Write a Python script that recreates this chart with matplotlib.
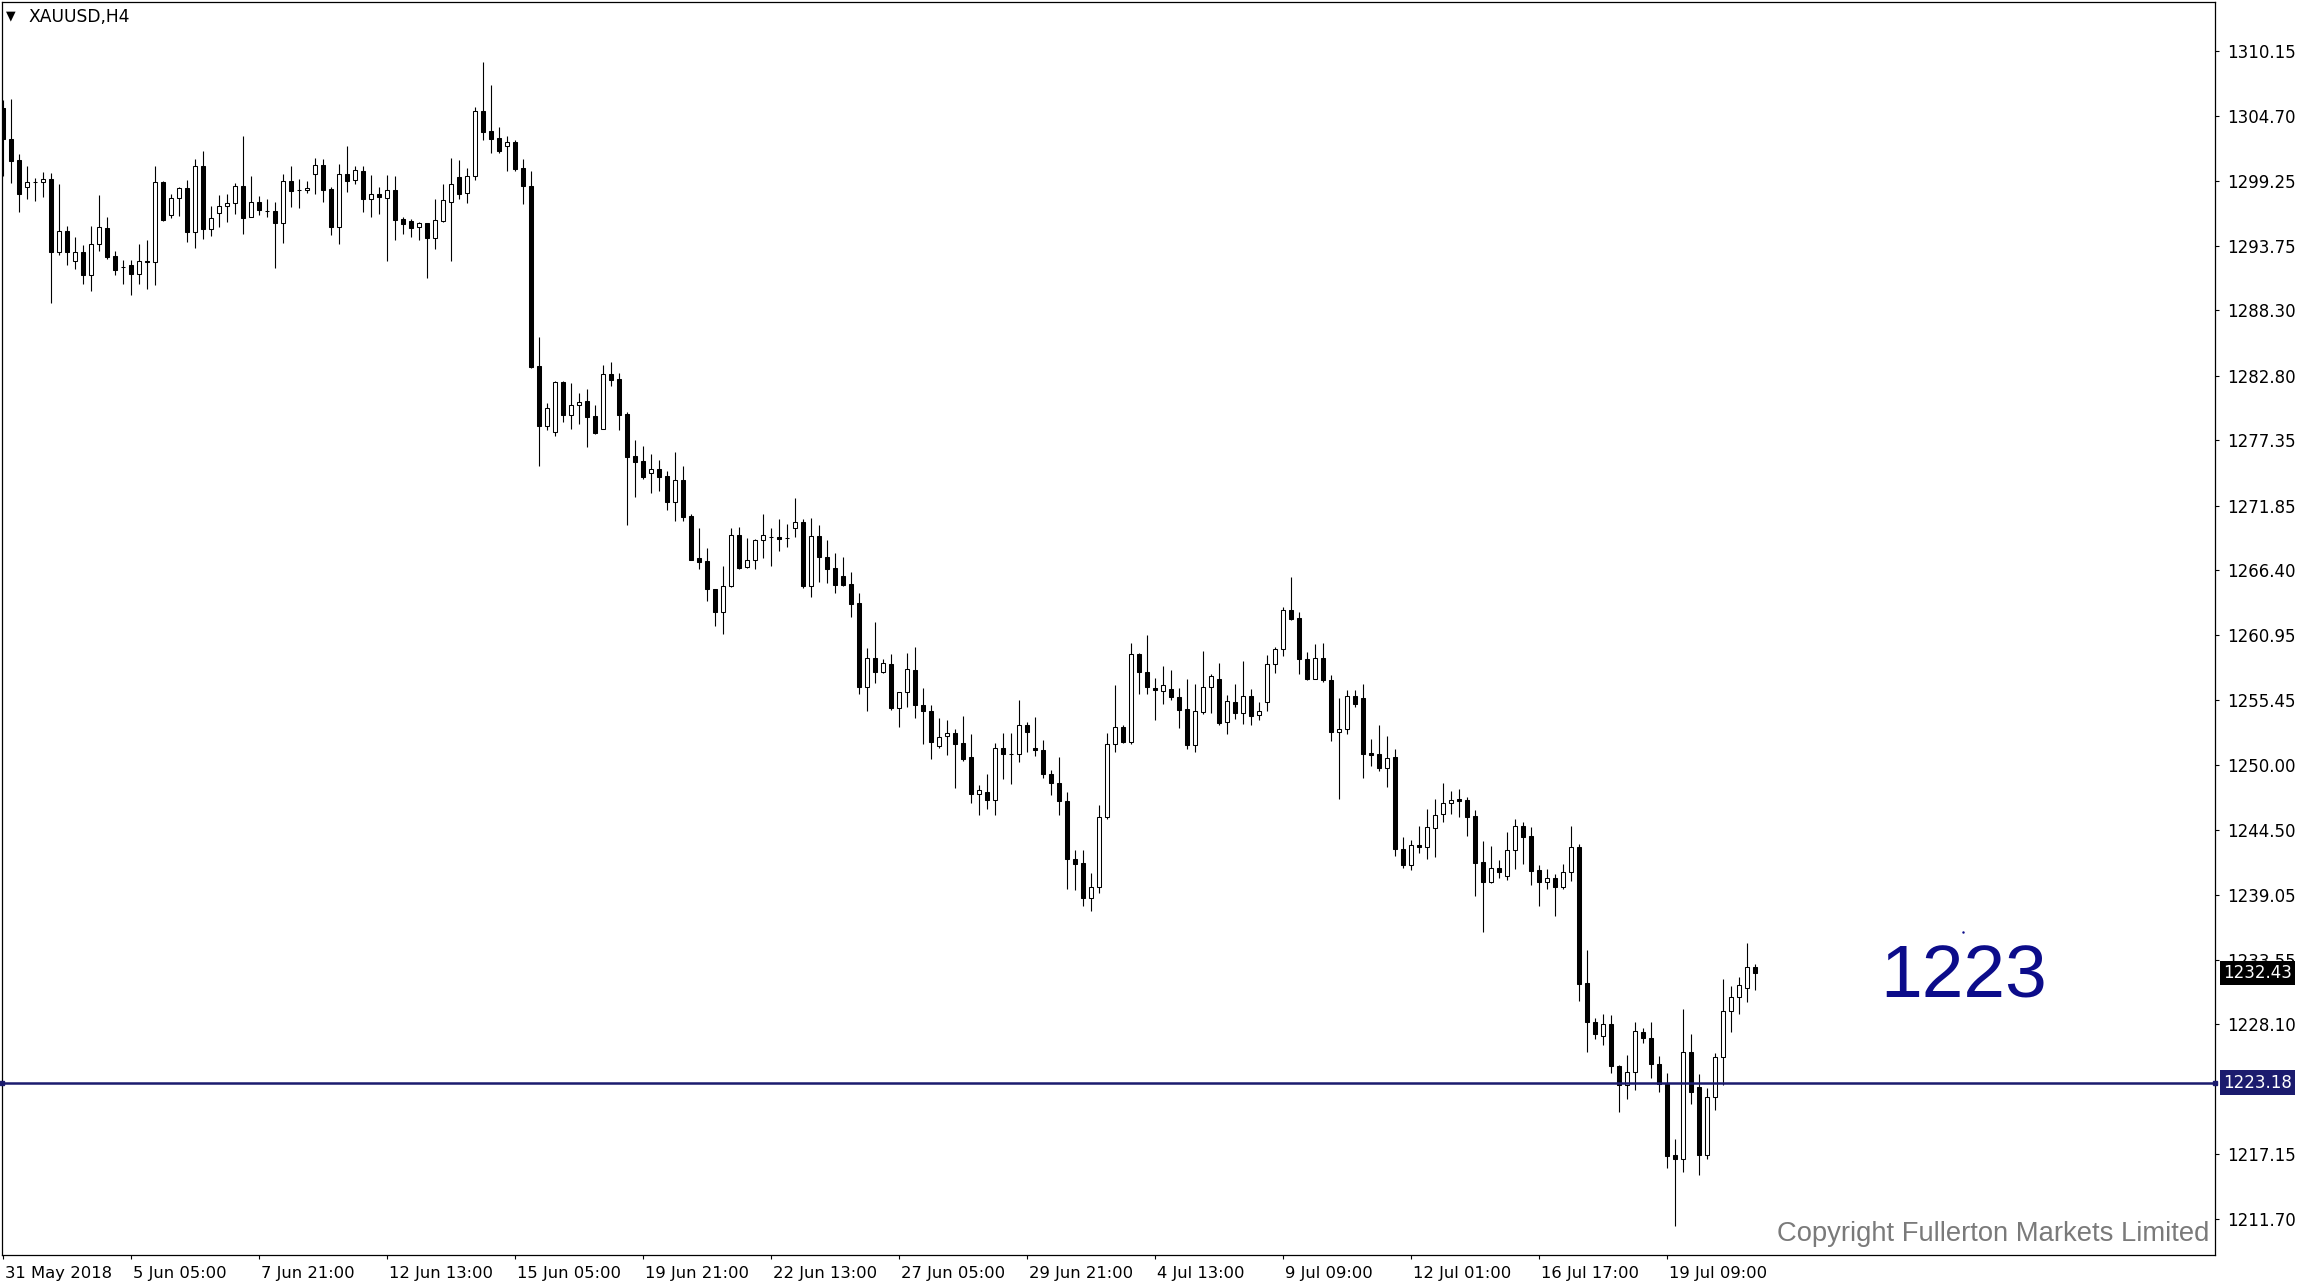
import numpy as np
import matplotlib
matplotlib.use('Agg')
import matplotlib.pyplot as plt
from matplotlib.transforms import ScaledTranslation

# XAUUSD H4 candles (one row = 10 bars)
opens = [
    1305.35, 1302.74, 1301.00, 1298.75, 1299.11, 1299.11, 1299.37, 1293.27, 1294.98, 1292.51,
    1293.21, 1291.33, 1293.88, 1295.23, 1292.87, 1291.97, 1292.11, 1291.41, 1292.45, 1292.37,
    1299.11, 1296.33, 1297.76, 1298.61, 1294.95, 1300.46, 1295.15, 1296.50, 1297.09, 1297.34,
    1298.77, 1296.16, 1297.43, 1296.68, 1296.67, 1295.71, 1299.20, 1298.44, 1298.44, 1299.79,
    1300.55, 1298.52, 1295.37, 1299.79, 1299.28, 1300.04, 1297.73, 1298.13, 1297.82, 1298.44,
    1295.99, 1295.82, 1295.32, 1295.66, 1294.45, 1295.88, 1297.43, 1299.56, 1298.24, 1299.62,
    1305.10, 1303.44, 1302.82, 1302.20, 1302.48, 1300.32, 1298.80, 1283.63, 1278.60, 1278.03,
    1282.28, 1279.52, 1280.31, 1280.65, 1279.38, 1278.28, 1282.92, 1282.50, 1279.55, 1276.01,
    1275.59, 1274.57, 1274.91, 1274.32, 1272.19, 1273.98, 1270.95, 1267.41, 1267.16, 1264.79,
    1262.91, 1265.05, 1269.35, 1266.71, 1267.24, 1268.93, 1269.24, 1269.18, 1269.10, 1269.94,
    1270.44, 1265.05, 1269.26, 1267.49, 1266.56, 1265.89, 1265.22, 1263.61, 1256.53, 1258.97,
    1257.79, 1258.46, 1254.81, 1256.10, 1257.96, 1255.01, 1254.50, 1251.55, 1252.39, 1252.65,
    1251.80, 1250.65, 1247.50, 1247.67, 1247.05, 1251.38, 1250.88, 1250.88, 1253.32, 1251.38,
    1251.21, 1249.19, 1248.43, 1246.97, 1242.05, 1241.69, 1238.73, 1239.66, 1245.62, 1251.72,
    1253.15, 1251.94, 1259.31, 1257.79, 1256.44, 1256.19, 1256.35, 1255.68, 1254.67, 1251.69,
    1254.47, 1256.52, 1257.23, 1253.63, 1255.26, 1254.39, 1255.76, 1254.16, 1255.26, 1258.46,
    1259.73, 1263.02, 1262.34, 1258.88, 1257.20, 1258.97, 1257.11, 1252.79, 1253.04, 1255.76,
    1255.60, 1250.99, 1250.87, 1249.75, 1250.62, 1242.86, 1241.58, 1243.21, 1243.04, 1244.64,
    1245.82, 1246.75, 1247.12, 1247.00, 1245.66, 1241.78, 1240.15, 1241.27, 1240.65, 1242.79,
    1244.81, 1243.97, 1241.10, 1240.15, 1240.43, 1239.72, 1240.93, 1243.04, 1231.57, 1228.29,
    1227.10, 1228.12, 1224.57, 1223.00, 1224.06, 1227.44, 1226.93, 1224.74, 1223.05, 1217.07,
    1216.73, 1225.75, 1222.80, 1217.07, 1221.95, 1225.33, 1229.21, 1230.39, 1231.15, 1232.92,
]
highs = [
    1306.05, 1306.14, 1301.50, 1300.49, 1299.45, 1299.96, 1299.87, 1298.97, 1295.43, 1294.47,
    1293.80, 1295.43, 1298.04, 1296.19, 1293.32, 1292.56, 1292.56, 1293.88, 1294.25, 1300.49,
    1299.20, 1298.13, 1298.75, 1299.31, 1301.08, 1301.75, 1297.12, 1298.04, 1298.13, 1299.03,
    1303.02, 1299.65, 1297.96, 1297.71, 1297.45, 1299.82, 1300.49, 1299.39, 1299.22, 1301.16,
    1301.08, 1298.69, 1300.63, 1302.15, 1300.46, 1300.46, 1299.70, 1298.69, 1299.70, 1299.62,
    1296.16, 1296.00, 1295.74, 1295.70, 1297.73, 1298.97, 1301.16, 1300.99, 1300.32, 1305.46,
    1309.23, 1307.32, 1303.75, 1303.02, 1302.68, 1301.08, 1300.07, 1286.07, 1280.48, 1282.36,
    1282.36, 1282.19, 1281.35, 1281.66, 1280.31, 1283.71, 1283.93, 1283.00, 1279.75, 1277.36,
    1276.85, 1276.18, 1275.70, 1274.74, 1276.35, 1275.16, 1271.12, 1269.94, 1268.25, 1264.79,
    1266.73, 1269.94, 1270.02, 1269.09, 1269.01, 1271.12, 1269.94, 1270.70, 1270.27, 1272.47,
    1270.70, 1270.78, 1270.19, 1268.93, 1267.83, 1267.49, 1266.23, 1264.45, 1259.81, 1262.01,
    1258.89, 1259.31, 1256.10, 1259.39, 1259.90, 1256.44, 1255.01, 1253.91, 1253.74, 1252.98,
    1254.08, 1252.56, 1248.29, 1249.22, 1251.80, 1252.65, 1252.65, 1255.43, 1253.57, 1253.99,
    1252.06, 1249.53, 1250.65, 1247.67, 1242.81, 1242.81, 1240.84, 1246.58, 1252.65, 1256.69,
    1253.32, 1260.24, 1259.39, 1260.94, 1257.31, 1258.32, 1257.99, 1256.47, 1257.23, 1256.81,
    1259.59, 1257.62, 1258.58, 1255.88, 1256.81, 1258.74, 1256.38, 1255.26, 1259.22, 1259.90,
    1263.27, 1265.80, 1262.85, 1259.47, 1260.18, 1260.26, 1257.54, 1255.60, 1256.27, 1256.27,
    1256.81, 1252.14, 1253.35, 1252.42, 1251.30, 1243.91, 1243.63, 1244.84, 1246.24, 1247.12,
    1248.47, 1247.79, 1247.96, 1247.26, 1246.16, 1243.55, 1243.13, 1241.94, 1244.31, 1245.40,
    1245.15, 1244.73, 1241.52, 1241.19, 1240.82, 1241.61, 1244.84, 1243.29, 1234.36, 1228.62,
    1228.96, 1228.88, 1224.65, 1225.52, 1228.31, 1227.77, 1228.28, 1225.41, 1223.98, 1218.41,
    1229.37, 1227.30, 1223.89, 1222.71, 1225.66, 1231.93, 1231.34, 1232.10, 1234.97, 1233.20,
]
lows = [
    1299.60, 1299.08, 1296.61, 1297.71, 1297.57, 1297.90, 1288.97, 1293.01, 1292.14, 1291.80,
    1290.54, 1289.98, 1293.35, 1292.65, 1291.33, 1290.54, 1289.64, 1290.54, 1290.12, 1290.48,
    1295.88, 1296.10, 1296.30, 1294.11, 1293.60, 1294.36, 1294.61, 1295.37, 1295.80, 1296.44,
    1294.73, 1296.16, 1296.39, 1296.22, 1291.92, 1294.03, 1297.06, 1296.98, 1298.18, 1298.13,
    1297.48, 1294.70, 1293.94, 1298.32, 1299.00, 1296.64, 1296.22, 1296.47, 1292.51, 1294.28,
    1294.78, 1294.53, 1294.28, 1291.07, 1293.52, 1295.80, 1292.51, 1297.73, 1297.40, 1299.28,
    1302.71, 1301.61, 1301.61, 1300.09, 1300.09, 1297.31, 1283.46, 1275.22, 1278.26, 1277.75,
    1278.93, 1278.34, 1278.76, 1276.82, 1277.92, 1278.28, 1281.97, 1278.26, 1270.25, 1272.61,
    1274.10, 1272.94, 1273.11, 1271.51, 1270.58, 1270.58, 1267.30, 1266.54, 1263.84, 1261.73,
    1261.06, 1265.00, 1266.54, 1266.62, 1266.54, 1267.46, 1266.79, 1268.05, 1268.39, 1269.23,
    1264.93, 1264.18, 1265.44, 1265.36, 1264.51, 1265.10, 1262.49, 1255.94, 1254.56, 1256.86,
    1257.70, 1254.59, 1253.21, 1254.89, 1253.97, 1251.75, 1250.51, 1251.44, 1250.82, 1248.06,
    1250.34, 1246.77, 1245.73, 1246.29, 1245.73, 1248.82, 1248.35, 1250.20, 1251.10, 1250.71,
    1248.85, 1247.42, 1245.73, 1239.55, 1239.47, 1238.12, 1237.69, 1239.21, 1245.45, 1251.10,
    1251.86, 1251.78, 1255.94, 1255.94, 1253.80, 1255.15, 1255.46, 1253.12, 1251.35, 1251.10,
    1254.30, 1254.39, 1253.38, 1252.62, 1253.88, 1253.46, 1253.38, 1253.80, 1254.56, 1257.76,
    1259.19, 1262.20, 1257.68, 1257.17, 1257.20, 1256.95, 1252.03, 1247.14, 1252.62, 1254.84,
    1248.91, 1249.92, 1249.50, 1248.15, 1242.33, 1241.30, 1241.16, 1242.59, 1242.09, 1242.25,
    1245.20, 1245.88, 1245.63, 1244.02, 1238.97, 1235.93, 1240.06, 1240.48, 1240.31, 1241.24,
    1241.66, 1239.89, 1238.12, 1239.56, 1237.28, 1239.56, 1240.23, 1230.11, 1225.81, 1226.85,
    1226.35, 1224.04, 1220.75, 1221.84, 1222.60, 1226.56, 1223.61, 1222.43, 1216.03, 1211.13,
    1215.69, 1221.42, 1215.38, 1216.73, 1220.91, 1222.97, 1227.49, 1229.01, 1230.02, 1231.03,
]
closes = [
    1302.74, 1300.94, 1298.13, 1299.11, 1299.15, 1299.37, 1293.27, 1294.98, 1293.27, 1293.21,
    1291.33, 1293.88, 1295.32, 1292.84, 1291.75, 1292.00, 1291.41, 1292.45, 1292.35, 1299.11,
    1295.94, 1297.76, 1298.61, 1294.95, 1300.46, 1295.15, 1296.08, 1297.09, 1297.34, 1298.77,
    1296.13, 1297.43, 1296.81, 1296.70, 1295.71, 1299.20, 1298.41, 1298.42, 1298.61, 1300.55,
    1298.49, 1295.37, 1299.79, 1299.25, 1300.12, 1297.73, 1298.10, 1297.90, 1298.44, 1295.96,
    1295.63, 1295.29, 1295.66, 1294.45, 1295.91, 1297.59, 1298.94, 1298.16, 1299.62, 1305.10,
    1303.38, 1302.79, 1301.78, 1302.48, 1300.26, 1298.83, 1283.54, 1278.60, 1280.06, 1282.28,
    1279.52, 1280.31, 1280.56, 1279.35, 1278.00, 1282.92, 1282.47, 1279.52, 1275.98, 1275.56,
    1274.29, 1274.91, 1274.29, 1272.19, 1273.98, 1270.92, 1267.30, 1267.13, 1264.79, 1262.91,
    1265.05, 1269.35, 1266.62, 1267.24, 1268.93, 1269.35, 1269.20, 1269.07, 1269.12, 1270.44,
    1265.10, 1269.26, 1267.55, 1266.54, 1265.19, 1265.19, 1263.59, 1256.53, 1258.97, 1257.79,
    1258.60, 1254.81, 1256.10, 1258.04, 1255.01, 1254.50, 1251.94, 1252.37, 1252.65, 1251.78,
    1250.51, 1247.50, 1247.84, 1247.05, 1251.38, 1250.88, 1250.88, 1253.32, 1252.73, 1251.21,
    1249.19, 1248.43, 1246.97, 1242.02, 1241.66, 1238.73, 1239.66, 1245.62, 1251.72, 1253.15,
    1251.94, 1259.31, 1257.79, 1256.53, 1256.27, 1256.69, 1255.68, 1254.64, 1251.69, 1254.50,
    1256.52, 1257.45, 1253.54, 1255.34, 1254.39, 1255.76, 1254.13, 1254.50, 1258.46, 1259.73,
    1263.02, 1262.31, 1258.88, 1257.25, 1258.97, 1257.17, 1252.79, 1253.04, 1255.76, 1255.09,
    1250.93, 1250.85, 1249.75, 1250.54, 1242.86, 1241.58, 1243.21, 1243.04, 1244.73, 1245.74,
    1246.75, 1247.00, 1246.97, 1245.63, 1241.75, 1240.15, 1241.27, 1240.99, 1242.79, 1244.81,
    1243.94, 1241.07, 1240.15, 1240.48, 1239.72, 1240.93, 1243.04, 1231.55, 1228.29, 1227.27,
    1228.12, 1224.57, 1223.00, 1224.06, 1227.52, 1226.93, 1224.79, 1223.05, 1217.04, 1216.73,
    1225.75, 1222.43, 1217.07, 1221.95, 1225.33, 1229.21, 1230.39, 1231.40, 1232.92, 1232.43,
]

time_label_bars = [0, 16, 32, 48, 64, 80, 96, 112, 128, 144, 160, 176, 192, 208]
time_labels = ['31 May 2018', '5 Jun 05:00', '7 Jun 21:00', '12 Jun 13:00', '15 Jun 05:00',
               '19 Jun 21:00', '22 Jun 13:00', '27 Jun 05:00', '29 Jun 21:00', '4 Jul 13:00',
               '9 Jul 09:00', '12 Jul 01:00', '16 Jul 17:00', '19 Jul 09:00']
price_ticks = [1310.15, 1304.70, 1299.25, 1293.75, 1288.30, 1282.80, 1277.35, 1271.85,
               1266.40, 1260.95, 1255.45, 1250.00, 1244.50, 1239.05, 1233.55, 1228.10,
               1217.15, 1211.70]
last_price = 1232.43
level_price = 1223.18
level_text = '1223'
level_text_bar = 245
level_text_price = 1232.0

W, H = 2301, 1288
fig = plt.figure(figsize=(W / 100, H / 100), dpi=100)
fig.patch.set_facecolor('white')
ax = fig.add_axes([2 / W, 33 / H, 2213 / W, 1253 / H])

o = np.array(opens)
hi = np.array(highs)
lo = np.array(lows)
c = np.array(closes)
x = np.arange(len(o))
up = c >= o

# wicks then bodies
ax.vlines(x, lo, hi, color='black', linewidth=0.8, zorder=2)
body_low = np.minimum(o, c)
body_h = np.maximum(np.abs(c - o), 0.02)
ax.bar(x, body_h, width=0.5, bottom=body_low,
       color=np.where(up, 'white', 'black'), edgecolor='black',
       linewidth=0.75, zorder=3)

# support level
navy = '#1b1b6e'
ax.axhline(level_price, color=navy, linewidth=1.8, zorder=4)
ax.set_xlim(-0.1875, 276.44)
ax.set_ylim(1208.66, 1314.31)
ax.plot([-0.1875, 276.44], [level_price, level_price], 's', ms=3.5,
        color=navy, clip_on=False, zorder=5)

ax.text(level_text_bar, level_text_price, level_text, ha='center', va='center',
        fontsize=54, color='#0c0c8a', family='Liberation Sans', zorder=5)
ax.plot([level_text_bar], [1235.9], '.', ms=1.5, color='#0c0c8a')

# axes styling
for sp in ax.spines.values():
    sp.set_linewidth(0.9)
    sp.set_color('black')
ax.yaxis.tick_right()
ax.set_yticks(price_ticks)
ax.set_yticklabels([f'{p:.2f}' for p in price_ticks])
ax.tick_params(axis='y', direction='out', length=3, pad=6, labelsize=12, width=0.8)
ax.set_xticks(time_label_bars)
ax.set_xticklabels(time_labels)
ax.tick_params(axis='x', direction='out', length=3, pad=5, labelsize=11.8, width=0.8)
shift = ScaledTranslation(2 / 100, 0, fig.dpi_scale_trans)
for lab in ax.get_xticklabels():
    lab.set_horizontalalignment('left')
    lab.set_transform(lab.get_transform() + shift)

# price boxes on the scale
ax.annotate(f'{last_price:.2f}', xy=(1, last_price), xycoords=('axes fraction', 'data'),
            xytext=(8, 0), textcoords='offset pixels', ha='left', va='center',
            fontsize=12, color='white', annotation_clip=False, zorder=10,
            bbox=dict(boxstyle='square,pad=0.2', fc='black', ec='none'))
ax.annotate(f'{level_price:.2f}', xy=(1, level_price), xycoords=('axes fraction', 'data'),
            xytext=(8, 0), textcoords='offset pixels', ha='left', va='center',
            fontsize=12, color='white', annotation_clip=False, zorder=10,
            bbox=dict(boxstyle='square,pad=0.2', fc=navy, ec='none'))

fig.text(6 / W, 1 - 16 / H, '\u25bc', fontsize=9, va='center', ha='left')
fig.text(28 / W, 1 - 17 / H, 'XAUUSD,H4', fontsize=12.3, va='center', ha='left')
fig.text(2209 / W, 1 - 1234 / H, 'Copyright Fullerton Markets Limited', ha='right',
         va='center', fontsize=19.7, color='#7a7a7a', family='Liberation Sans')

fig.savefig('out.png', dpi=100, facecolor='white')
